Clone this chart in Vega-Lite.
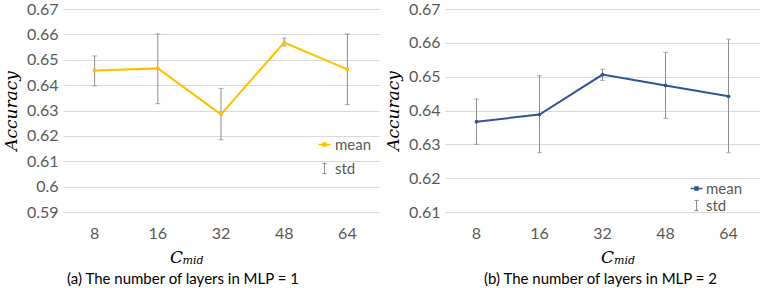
{
  "$schema": "https://vega.github.io/schema/vega-lite/v6.json",
  "background": "white",
  "padding": {"left": 2, "top": 1, "right": 0, "bottom": 0},
  "spacing": 5,
  "config": {
    "view": {"stroke": null},
    "font": "Lato",
    "axisY": {
      "labelFont": "Lato", "labelFontSize": 16, "labelColor": "#595959", "labelPadding": 5, "labelOverlap": false,
      "ticks": false, "domain": false, "gridColor": "#D9D9D9", "gridWidth": 1, "tickCount": 20,
      "titleFont": "DejaVu Serif", "titleFontStyle": "italic", "titleFontWeight": "normal",
      "titleFontSize": 17, "titleColor": "#000000", "titlePadding": 6,
      "labelExpr": "format(datum.value, '.2~f')"
    },
    "axisX": {
      "labelFont": "Lato", "labelFontSize": 16, "labelColor": "#595959", "labelPadding": 13,
      "labelAngle": 0, "ticks": false, "domain": false, "grid": false,
      "titleFont": "DejaVu Serif", "titleFontStyle": "italic", "titleFontWeight": "normal",
      "titleFontSize": 17, "titleColor": "#000000", "titleBaseline": "alphabetic", "titleAlign": "center"
    }
  },
  "datasets": {
    "a": [
      {"c": 8, "mean": 0.6458, "lower": 0.6397, "upper": 0.6515},
      {"c": 16, "mean": 0.6466, "lower": 0.6327, "upper": 0.6602},
      {"c": 32, "mean": 0.6285, "lower": 0.6185, "upper": 0.6387},
      {"c": 48, "mean": 0.6568, "lower": 0.6554, "upper": 0.6585},
      {"c": 64, "mean": 0.6462, "lower": 0.6323, "upper": 0.6602}
    ],
    "b": [
      {"c": 8, "mean": 0.6367, "lower": 0.6300, "upper": 0.6434},
      {"c": 16, "mean": 0.6388, "lower": 0.6275, "upper": 0.6503},
      {"c": 32, "mean": 0.6506, "lower": 0.6489, "upper": 0.6522},
      {"c": 48, "mean": 0.6474, "lower": 0.6377, "upper": 0.6572},
      {"c": 64, "mean": 0.6442, "lower": 0.6275, "upper": 0.6611}
    ]
  },
  "hconcat": [
    {
      "width": 316, "height": 203,
      "data": {"name": "a"},
      "title": {"text": "(a) The number of layers in MLP = 1", "orient": "bottom", "anchor": "middle", "dx": -38, "offset": 6, "font": "Lato", "fontSize": 15, "fontWeight": "normal", "color": "#000000"},
      "encoding": {
        "x": {"field": "c", "type": "ordinal", "axis": {"title": "C", "titleX": 113, "titleY": 50}}
      },
      "layer": [
        {
          "mark": {"type": "errorbar", "ticks": {"size": 5}, "thickness": 1},
          "encoding": {
            "y": {"field": "lower", "type": "quantitative", "scale": {"domain": [0.59, 0.67]}, "axis": {"title": "Accuracy", "tickCount": 20, "values": [0.59, 0.6, 0.61, 0.62, 0.63, 0.64, 0.65, 0.66, 0.67]}},
            "y2": {"field": "upper"},
            "color": {"datum": "std"}
          }
        },
        {
          "mark": {"type": "line", "strokeWidth": 2, "point": {"filled": true, "size": 12, "shape": "square"}},
          "encoding": {
            "y": {"field": "mean", "type": "quantitative", "axis": {"title": "Accuracy", "tickCount": 20, "values": [0.59, 0.6, 0.61, 0.62, 0.63, 0.64, 0.65, 0.66, 0.67]}},
            "color": {"datum": "mean", "scale": {"domain": ["mean", "std"], "range": ["#FFC000", "#8C8C8C"]},
              "legend": {"orient": "none", "legendX": 254, "legendY": 128, "title": null, "padding": 0,
                "labelFont": "Lato", "labelFontSize": 15, "labelColor": "#595959", "rowPadding": 8, "labelOffset": 3, "symbolSize": 144,
                "encode": {"symbols": {"update": {
                  "shape": {"signal": "datum.value === 'mean' ? 'M-1,0H1M-0.25,-0.25H0.25V0.25H-0.25Z' : 'M-0.35,-0.85H0.35M0,-0.85V0.85M-0.35,0.85H0.35'"},
                  "fill": {"signal": "datum.value === 'mean' ? '#FFC000' : 'transparent'"},
                  "stroke": {"signal": "datum.value === 'mean' ? '#FFC000' : '#8C8C8C'"},
                  "strokeWidth": {"signal": "datum.value === 'mean' ? 1.5 : 1"},
                  "opacity": {"value": 1}
                }}}
              }
            }
          }
        },
        {
          "data": {"values": [{"sub": "mid"}]},
          "mark": {"type": "text", "font": "DejaVu Serif", "fontStyle": "italic", "fontSize": 11, "dx": -28, "baseline": "alphabetic", "color": "#000000"},
          "encoding": {
            "x": {"datum": 32},
            "y": {"datum": 0.5695, "type": "quantitative"},
            "text": {"field": "sub"}
          }
        }
      ]
    },
    {
      "width": 315, "height": 203,
      "data": {"name": "b"},
      "title": {"text": "(b) The number of layers in MLP = 2", "orient": "bottom", "anchor": "middle", "dx": -2, "offset": 6, "font": "Lato", "fontSize": 15, "fontWeight": "normal", "color": "#000000"},
      "encoding": {
        "x": {"field": "c", "type": "ordinal", "axis": {"title": "C", "titleX": 162, "titleY": 50}}
      },
      "layer": [
        {
          "mark": {"type": "errorbar", "ticks": {"size": 5}, "thickness": 1},
          "encoding": {
            "y": {"field": "lower", "type": "quantitative", "scale": {"domain": [0.61, 0.67]}, "axis": {"title": "Accuracy", "tickCount": 20, "values": [0.61, 0.62, 0.63, 0.64, 0.65, 0.66, 0.67]}},
            "y2": {"field": "upper"},
            "color": {"datum": "std"}
          }
        },
        {
          "mark": {"type": "line", "strokeWidth": 2, "point": {"filled": true, "size": 14}},
          "encoding": {
            "y": {"field": "mean", "type": "quantitative", "axis": {"title": "Accuracy", "tickCount": 20, "values": [0.61, 0.62, 0.63, 0.64, 0.65, 0.66, 0.67]}},
            "color": {"datum": "mean", "scale": {"domain": ["mean", "std"], "range": ["#2F5597", "#8C8C8C"]},
              "legend": {"orient": "none", "legendX": 244, "legendY": 172, "title": null, "padding": 0,
                "labelFont": "Lato", "labelFontSize": 15, "labelColor": "#595959", "rowPadding": 1, "labelOffset": 2, "symbolSize": 144,
                "encode": {"symbols": {"update": {
                  "shape": {"signal": "datum.value === 'mean' ? 'M-1,0H1M-0.25,-0.25H0.25V0.25H-0.25Z' : 'M-0.35,-0.85H0.35M0,-0.85V0.85M-0.35,0.85H0.35'"},
                  "fill": {"signal": "datum.value === 'mean' ? '#2F5597' : 'transparent'"},
                  "stroke": {"signal": "datum.value === 'mean' ? '#2F5597' : '#8C8C8C'"},
                  "strokeWidth": {"signal": "datum.value === 'mean' ? 1.5 : 1"},
                  "opacity": {"value": 1}
                }}}
              }
            }
          }
        },
        {
          "data": {"values": [{"sub": "mid"}]},
          "mark": {"type": "text", "font": "DejaVu Serif", "fontStyle": "italic", "fontSize": 11, "dx": 22, "baseline": "alphabetic", "color": "#000000"},
          "encoding": {
            "x": {"datum": 32},
            "y": {"datum": 0.5946, "type": "quantitative"},
            "text": {"field": "sub"}
          }
        }
      ]
    }
  ],
  "resolve": {"scale": {"color": "independent", "y": "independent", "x": "independent"}}
}
